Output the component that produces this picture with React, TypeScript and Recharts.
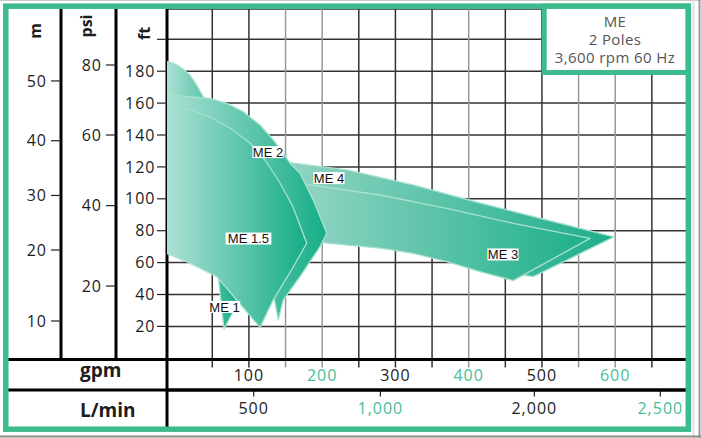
import React from 'react';
import { ScatterChart, Scatter, XAxis, YAxis, CartesianGrid } from 'recharts';

const GREEN = '#3dbb8c';
const GREEN_TEXT = '#47c096';
const INK = '#1d1d1d';
const FONT = '"Open Sans", sans-serif';

// flow axis (gpm) — one grid line every 50 gpm, some drawn dark, some grey
const gpmTicks = [50, 100, 150, 200, 250, 300, 350, 400, 450, 500, 550, 600, 650];
const darkGridGpm = [50, 100, 250, 300, 350, 450, 500, 650];
const greyGridGpm = [150, 200, 400, 550, 600];
// L/min row: labels and where they sit on the gpm scale
const lminLabels = ['500', '1,000', '2,000', '2,500'];
const lminTickGpm = [106.5, 279.5, 489.6, 661.6];

// head axes — ft is the plotting scale, psi and m are read against it
const ftTicks = [20, 40, 60, 80, 100, 120, 140, 160, 180, 200];
const psiLabels = ['80', '60', '40', '20'];
const psiTickFt = [183.9, 140.0, 95.7, 45.3];
const mLabels = ['50', '40', '30', '20', '10'];
const mTickFt = [173.9, 136.4, 102.1, 67.9, 23.4];

// pump family envelopes (gpm, ft), traced round the outline
const me1 = [
  { gpm: -11, ft: 186 }, { gpm: -3.6, ft: 185 }, { gpm: 6, ft: 182.8 }, { gpm: 19.6, ft: 177.6 },
  { gpm: 28.7, ft: 171.3 }, { gpm: 37.7, ft: 164 }, { gpm: 46.8, ft: 143 }, { gpm: 52.3, ft: 99 },
  { gpm: 56.4, ft: 61.6 }, { gpm: 58.2, ft: 51 }, { gpm: 66, ft: 18.4 }, { gpm: 85, ft: 34.7 },
  { gpm: 71.5, ft: 46.6 }, { gpm: 33, ft: 60.4 }, { gpm: -11, ft: 67.9 },
];
const me2 = [
  { gpm: -11, ft: 165.1 }, { gpm: 46.9, ft: 163 }, { gpm: 69.7, ft: 159.9 }, { gpm: 92.3, ft: 154.6 },
  { gpm: 115.1, ft: 146.3 }, { gpm: 133.3, ft: 136.9 }, { gpm: 146.9, ft: 128.5 }, { gpm: 156.1, ft: 122.3 },
  { gpm: 169.7, ft: 116 }, { gpm: 187.9, ft: 99.2 }, { gpm: 206.2, ft: 78.4 }, { gpm: 197, ft: 70 },
  { gpm: 169.7, ft: 51.2 }, { gpm: 146.9, ft: 36.6 }, { gpm: 140.1, ft: 24 }, { gpm: 133.8, ft: 39.1 },
  { gpm: 108.3, ft: 42.8 }, { gpm: 60.5, ft: 55.4 }, { gpm: -11, ft: 71 },
];
const me15 = [
  { gpm: -11, ft: 160.1 }, { gpm: 19.6, ft: 155.7 }, { gpm: 46.9, ft: 151.3 }, { gpm: 73.9, ft: 144.4 },
  { gpm: 101.5, ft: 135 }, { gpm: 122, ft: 124.3 }, { gpm: 142.5, ft: 109.9 }, { gpm: 160.2, ft: 94.9 },
  { gpm: 178.9, ft: 72.1 }, { gpm: 160.6, ft: 57.4 }, { gpm: 133.3, ft: 36.6 }, { gpm: 115.1, ft: 19.4 },
  { gpm: 85.1, ft: 35.6 }, { gpm: 56, ft: 51.2 }, { gpm: 37.7, ft: 55.4 }, { gpm: 15.1, ft: 60.6 },
  { gpm: -11, ft: 65.4 },
];
const me4 = [
  { gpm: 142.4, ft: 124.3 }, { gpm: 160.2, ft: 122.4 }, { gpm: 233.9, ft: 118.1 }, { gpm: 324, ft: 108.7 },
  { gpm: 415.4, ft: 97.4 }, { gpm: 506.9, ft: 86.7 }, { gpm: 598.3, ft: 76.1 }, { gpm: 488.2, ft: 51.2 },
  { gpm: 472.8, ft: 52.2 }, { gpm: 415.4, ft: 58.5 }, { gpm: 324, ft: 69.2 }, { gpm: 232.5, ft: 74.2 },
  { gpm: 169.7, ft: 76.7 },
];
const me3 = [
  { gpm: 162.9, ft: 109.9 }, { gpm: 183.4, ft: 108.7 }, { gpm: 279, ft: 102.4 }, { gpm: 370, ft: 94 },
  { gpm: 460.9, ft: 84.6 }, { gpm: 565.6, ft: 75.2 }, { gpm: 460.9, ft: 48.7 }, { gpm: 415.4, ft: 54.3 },
  { gpm: 370, ft: 60.6 }, { gpm: 324.4, ft: 65.8 }, { gpm: 279, ft: 69 }, { gpm: 233.5, ft: 71 },
  { gpm: 201.5, ft: 72.5 }, { gpm: 176.6, ft: 74.2 },
];
const modelTags = [
  { name: 'ME 2', gpm: 126.1, ft: 129.3 },
  { name: 'ME 1.5', gpm: 99.4, ft: 75.1 },
  { name: 'ME 4', gpm: 209.3, ft: 113 },
  { name: 'ME 3', gpm: 446.8, ft: 65.1 },
  { name: 'ME 1', gpm: 66.7, ft: 32.2 },
];
// anchors so the L/min axis has something to scale against
const lminMarks = lminTickGpm.map((gpm) => ({ gpm, ft: 0 }));

const X_DOMAIN: [number, number] = [-11.8, 698];
const FT_DOMAIN: [number, number] = [-0.75, 219];

function makeOutline(fillId: string) {
  return function Outline(props: any) {
    const pts = (props.points || []).filter((p: any) => Number.isFinite(p.x) && Number.isFinite(p.y));
    if (pts.length < 3) return <g />;
    const d = pts.map((p: any, i: number) => `${i ? 'L' : 'M'}${p.x.toFixed(1)},${p.y.toFixed(1)}`).join('') + 'Z';
    return <path d={d} fill={`url(#${fillId})`} stroke="#a8e2cf" strokeWidth={1.3} strokeLinejoin="round" />;
  };
}
const PumpOutline = makeOutline('pumpShade');
const BandOutline = makeOutline('bandShade');

const NoPoint = () => <g />;

function ModelTag(props: any) {
  const { cx, cy, payload } = props;
  const w = payload.name.length * 7.3 + 2;
  return (
    <g>
      <rect x={cx - w / 2} y={cy - 6} width={w} height={12} fill="#fff" />
      <text x={cx} y={cy} dy="0.36em" textAnchor="middle" fontSize={13} fill="#111"
        fontFamily="'Liberation Sans', Arial, sans-serif">{payload.name}</text>
    </g>
  );
}

function GpmTick(props: any) {
  const { x, y, payload } = props;
  const v = payload.value;
  const tone = greyGridGpm.includes(v) ? '#999' : '#333';
  const label = v % 100 === 0 ? String(v) : '';
  return (
    <g>
      <line x1={x} y1={y - 10} x2={x} y2={y - 2} stroke={tone} strokeWidth={1.5} />
      {label && (
        <text x={x} y={y} dy="0.71em" textAnchor="middle" fontSize={16} letterSpacing={1}
          fontFamily={FONT} fill={(v / 100) % 2 === 0 ? GREEN_TEXT : INK}>{label}</text>
      )}
    </g>
  );
}

function LminTick(props: any) {
  const { x, y, payload } = props;
  let i = lminTickGpm.indexOf(payload.value);
  if (i < 0) i = lminTickGpm.findIndex((g) => Math.abs(g - Number(payload.value)) < 0.5);
  return (
    <g>
      <line x1={x} y1={y - 12.5} x2={x} y2={y - 6} stroke="#222" strokeWidth={1.2} />
      <text x={x} y={y} dy="0.71em" textAnchor="middle" fontSize={16} letterSpacing={1}
        fontFamily={FONT} fill={i % 2 === 1 ? GREEN_TEXT : INK}>{lminLabels[i] ?? ''}</text>
    </g>
  );
}

const tickText = { fill: INK, fontSize: 16, fontFamily: FONT, letterSpacing: 1 };
const blackLine = { stroke: '#000', strokeWidth: 3 };
const tickMark = { stroke: '#222', strokeWidth: 1.2 };

export default function App() {
  return (
    <div style={{ position: 'absolute', left: 0, top: 0, width: 701, height: 438, background: '#fff', overflow: 'hidden' }}>
      <ScatterChart width={701} height={438} margin={{ top: 9, right: 14, bottom: 11, left: 9 }}>
        <defs>
          <linearGradient id="pumpShade" x1="0" y1="0" x2="1" y2="0">
            <stop offset="0%" stopColor="#abe0d4" />
            <stop offset="100%" stopColor="#16ad87" />
          </linearGradient>
          <linearGradient id="bandShade" x1="0" y1="0" x2="1" y2="0">
            <stop offset="0%" stopColor="#94d5c4" />
            <stop offset="100%" stopColor="#1daf8a" />
          </linearGradient>
        </defs>
        <CartesianGrid xAxisId="gpm" yAxisId="y1ft" stroke="#333" strokeWidth={1.5} verticalValues={darkGridGpm} />
        <CartesianGrid xAxisId="gpm" yAxisId="y1ft" stroke="#999" strokeWidth={1.5} horizontal={false} verticalValues={greyGridGpm} />
        <XAxis xAxisId="gpm" dataKey="gpm" type="number" domain={X_DOMAIN} ticks={gpmTicks} interval={0}
          allowDataOverflow height={30.5} axisLine={blackLine} tickLine={false} tickSize={8} tickMargin={2}
          tick={GpmTick} />
        <XAxis xAxisId="lmin" dataKey="gpm" type="number" domain={X_DOMAIN} ticks={lminTickGpm} interval={0}
          allowDataOverflow height={37} axisLine={blackLine} tickLine={false}
          tickSize={6.5} tickMargin={6} tick={LminTick} />
        <YAxis yAxisId="y1ft" dataKey="ft" type="number" domain={FT_DOMAIN} ticks={ftTicks} interval={0}
          allowDataOverflow width={51} axisLine={blackLine} tickLine={tickMark}
          tickSize={10} tickMargin={1.5} tick={tickText} tickFormatter={(v: number) => (v === 200 ? '' : String(v))} />
        <YAxis yAxisId="y2psi" type="number" domain={FT_DOMAIN} ticks={psiTickFt} interval={0}
          allowDataOverflow width={55} axisLine={blackLine} tickLine={tickMark}
          tickSize={10} tickMargin={4} tick={tickText}
          tickFormatter={(v: number) => psiLabels[psiTickFt.indexOf(v)] ?? ''} />
        <YAxis yAxisId="y3m" type="number" domain={FT_DOMAIN} ticks={mTickFt} interval={0}
          allowDataOverflow width={52} axisLine={blackLine} tickLine={tickMark}
          tickSize={10} tickMargin={4} tick={tickText}
          tickFormatter={(v: number) => mLabels[mTickFt.indexOf(v)] ?? ''} />
        <Scatter data={lminMarks} xAxisId="lmin" yAxisId="y1ft" shape={NoPoint} isAnimationActive={false} />
        <Scatter data={me1} xAxisId="gpm" yAxisId="y1ft" line={PumpOutline} shape={NoPoint} isAnimationActive={false} />
        <Scatter data={me4} xAxisId="gpm" yAxisId="y1ft" line={BandOutline} shape={NoPoint} isAnimationActive={false} />
        <Scatter data={me3} xAxisId="gpm" yAxisId="y1ft" line={BandOutline} shape={NoPoint} isAnimationActive={false} />
        <Scatter data={me2} xAxisId="gpm" yAxisId="y1ft" line={PumpOutline} shape={NoPoint} isAnimationActive={false} />
        <Scatter data={me15} xAxisId="gpm" yAxisId="y1ft" line={PumpOutline} shape={NoPoint} isAnimationActive={false} />
        <Scatter data={modelTags} xAxisId="gpm" yAxisId="y1ft" shape={ModelTag} isAnimationActive={false} />
      </ScatterChart>

      <svg width={701} height={438} style={{ position: 'absolute', left: 0, top: 0, pointerEvents: 'none' }}>
        {/* table rules */}
        <line x1={8} y1={359.5} x2={687} y2={359.5} stroke="#000" strokeWidth={3} />
        <line x1={8} y1={390} x2={687} y2={390} stroke="#000" strokeWidth={3} />
        <line x1={167} y1={358} x2={167} y2={428} stroke="#000" strokeWidth={3} />
        {/* column headers */}
        <g fontFamily={FONT} fontWeight={700} fontSize={16} fill={INK} textAnchor="middle">
          <text transform="translate(41.3,31) rotate(-90)">m</text>
          <text transform="translate(92,26) rotate(-90)">psi</text>
          <text transform="translate(149.5,33.5) rotate(-90)">ft</text>
        </g>
        <g fontFamily={FONT} fontWeight={700} fontSize={19} fill={INK}>
          <text x={80} y={377}>gpm</text>
          <text x={80} y={416.5}>L/min</text>
        </g>
        {/* legend box */}
        <rect x={544.2} y={6} width={144} height={66.5} fill="#fff" stroke={GREEN} strokeWidth={5} />
        <g fontFamily={FONT} fontSize={15} fill="#555" textAnchor="middle" letterSpacing={0.4}>
          <text x={615} y={26.7}>ME</text>
          <text x={615} y={45}>2 Poles</text>
          <text x={615} y={63.3}>3,600 rpm 60 Hz</text>
        </g>
        {/* outer frame */}
        <rect x={5.8} y={6.2} width={682.5} height={423} fill="none" stroke={GREEN} strokeWidth={5.5} />
        <line x1={0} y1={0.5} x2={701} y2={0.5} stroke="#c9c9c9" strokeWidth={1} />
        <line x1={693.5} y1={0} x2={693.5} y2={438} stroke="#e2e2e2" strokeWidth={2} />
        <line x1={699.5} y1={0} x2={699.5} y2={438} stroke="#9a9a9a" strokeWidth={2} />
        <line x1={0} y1={436.5} x2={701} y2={436.5} stroke="#8a8a8a" strokeWidth={2} />
      </svg>
    </div>
  );
}
